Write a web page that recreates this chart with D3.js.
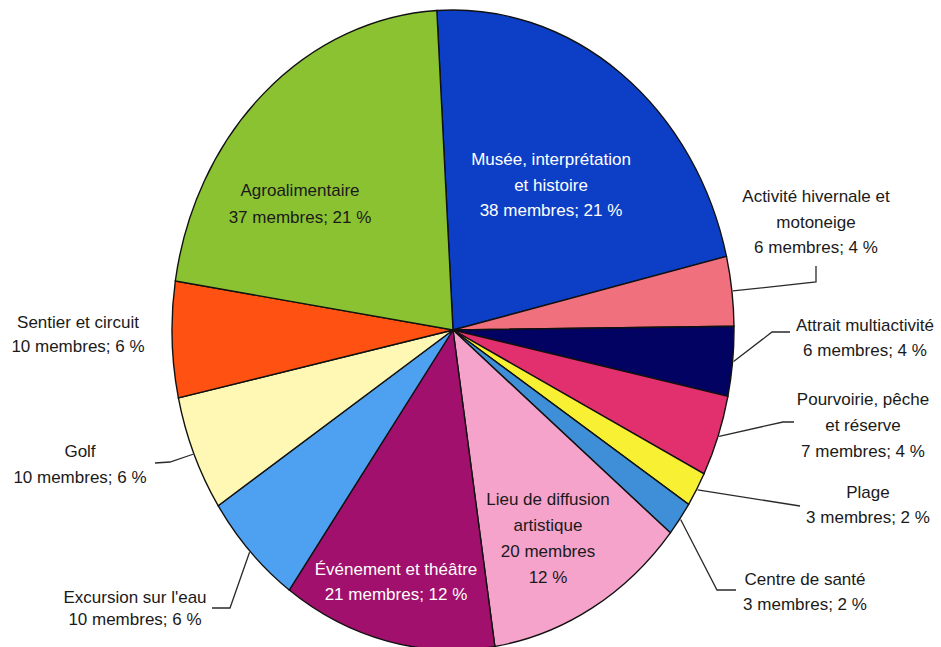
<!DOCTYPE html>
<html>
<head>
<meta charset="utf-8">
<script src="https://cdn.jsdelivr.net/npm/d3@7/dist/d3.min.js"></script>
<style>
html,body{margin:0;padding:0;background:#fff;}
svg{display:block;}
text{font-family:"Liberation Sans",Arial,sans-serif;font-size:17px;}
</style>
</head>
<body>
<svg id="chart" width="941" height="647"></svg>
<script>
// ---- data ----
const categories = ["Musée, interprétation|et histoire", "Activité hivernale et|motoneige", "Attrait multiactivité", "Pourvoirie, pêche|et réserve", "Plage", "Centre de santé", "Lieu de diffusion|artistique", "Événement et théâtre", "Excursion sur l'eau", "Golf", "Sentier et circuit", "Agroalimentaire"];
const members  = [38, 6, 6, 7, 3, 3, 20, 21, 10, 10, 10, 37];
const percents = [21, 4, 4, 4, 2, 2, 12, 12, 6, 6, 6, 21];
const colors   = ["#0c3fc6", "#f1707e", "#020263", "#e2306f", "#f8f032", "#3f8fd8", "#f5a3cb", "#a0106c", "#4ea0f0", "#fff8b4", "#ff5212", "#8bc232"];

// ---- layout (label placement) ----
const cx = 453, cy = 330, ry = 320, rx = 281;
const labelLayout = [
  {x: 551, y: 165, dy: 25.5, fill: "#fff"},
  {x: 816, y: 202, dy: 25.5, fill: "#1a1a1a", leader: [[816, 282], [816, 266]]},
  {x: 865, y: 331, dy: 25, fill: "#1a1a1a", leader: [[772, 332], [790, 332]]},
  {x: 863, y: 405, dy: 26, fill: "#1a1a1a", leader: [[783, 422], [794, 422]]},
  {x: 868, y: 498, dy: 25, fill: "#1a1a1a", leader: [[800, 506]]},
  {x: 805, y: 585, dy: 25, fill: "#1a1a1a", leader: [[717, 590], [736, 590]]},
  {x: 548, y: 505, dy: 26, fill: "#1a1a1a"},
  {x: 396, y: 575, dy: 25, fill: "#fff"},
  {x: 135, y: 603, dy: 22, fill: "#1a1a1a", leader: [[230, 608], [212, 608]]},
  {x: 80,  y: 457, dy: 26, fill: "#1a1a1a", leader: [[170, 462], [155, 463]]},
  {x: 78,  y: 328, dy: 24, fill: "#1a1a1a"},
  {x: 300, y: 196, dy: 27, fill: "#1a1a1a"}
];

const data = categories.map((c, i) => ({name: c, value: members[i], pct: percents[i], color: colors[i], i}));

const svg = d3.select("#chart");
const start = -3.3 * Math.PI / 180;
const pie = d3.pie().sort(null).value(d => d.value).startAngle(start).endAngle(start + 2 * Math.PI);
const arcs = pie(data);
const arc = d3.arc().innerRadius(0).outerRadius(ry);

const g = svg.append("g").attr("transform", `translate(${cx},${cy}) scale(${rx / ry},1)`);
g.selectAll("path").data(arcs).enter().append("path")
  .attr("d", arc)
  .attr("fill", d => d.data.color)
  .attr("stroke", "#111")
  .attr("stroke-width", 1.4)
  .attr("vector-effect", "non-scaling-stroke");

// leaders
arcs.forEach((a, i) => {
  const L = labelLayout[i];
  if (!L.leader) return;
  const mid = (a.startAngle + a.endAngle) / 2;
  const p0 = [cx + (rx + 1) * Math.sin(mid), cy - (ry + 1) * Math.cos(mid)];
  const pts = [p0].concat(L.leader);
  svg.append("path")
    .attr("d", d3.line()(pts))
    .attr("fill", "none")
    .attr("stroke", "#2a2a2a")
    .attr("stroke-width", 1.3);
});

// labels
arcs.forEach((a, i) => {
  const d = a.data, L = labelLayout[i];
  let lines = d.name.split("|");
  if (i === 6) lines = lines.concat([`${d.value} membres`, `${d.pct} %`]);
  else lines.push(`${d.value} membres; ${d.pct} %`);
  const t = svg.append("text")
    .attr("text-anchor", "middle")
    .attr("fill", L.fill);
  lines.forEach((ln, k) => {
    t.append("tspan").attr("x", L.x).attr("y", L.y + k * L.dy).text(ln);
  });
});
</script>
</body>
</html>
